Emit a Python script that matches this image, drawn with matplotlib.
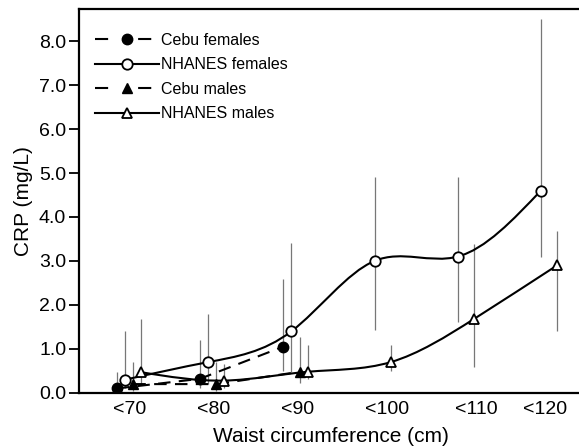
import numpy as np
import matplotlib
matplotlib.use("Agg")
import matplotlib.pyplot as plt
from matplotlib.path import Path
from matplotlib.patches import PathPatch
from matplotlib.lines import Line2D

plt.rcParams['font.family'] = ['Liberation Sans', 'DejaVu Sans']

# waist circumference groups
groups = ['<70', '<80', '<90', '<100', '<110', '<120']

# CRP (mg/L) with lower / upper bounds
cebu_f = [0.1, 0.32, 1.05]
cebu_f_lo = [0.0, 0.1, 0.5]
cebu_f_hi = [0.48, 1.2, 2.58]

nhanes_f = [0.3, 0.7, 1.4, 3.0, 3.1, 4.6]
nhanes_f_lo = [0.1, 0.2, 0.48, 1.42, 1.62, 3.1]
nhanes_f_hi = [1.4, 1.8, 3.4, 4.9, 4.9, 8.5]

cebu_m = [0.2, 0.2, 0.48]
cebu_m_lo = [0.05, 0.05, 0.23]
cebu_m_hi = [0.7, 0.7, 1.28]

nhanes_m = [0.47, 0.28, 0.48, 0.7, 1.68, 2.9]
nhanes_m_lo = [0.2, 0.1, 0.31, 0.5, 0.6, 1.41]
nhanes_m_hi = [1.68, 0.66, 1.08, 1.08, 3.39, 3.69]


def spline_path(x, y):
    # natural cubic spline as bezier segments
    x = np.asarray(x, float)
    y = np.asarray(y, float)
    n = len(x)
    h = np.diff(x)
    A = np.zeros((n, n))
    b = np.zeros(n)
    A[0, 0] = A[-1, -1] = 1
    for i in range(1, n - 1):
        A[i, i - 1] = h[i - 1]
        A[i, i] = 2 * (h[i - 1] + h[i])
        A[i, i + 1] = h[i]
        b[i] = 6 * ((y[i + 1] - y[i]) / h[i] - (y[i] - y[i - 1]) / h[i - 1])
    M = np.linalg.solve(A, b)
    verts = [(x[0], y[0])]
    codes = [Path.MOVETO]
    for i in range(n - 1):
        d0 = (y[i + 1] - y[i]) / h[i] - h[i] * (2 * M[i] + M[i + 1]) / 6
        d1 = (y[i + 1] - y[i]) / h[i] + h[i] * (M[i] + 2 * M[i + 1]) / 6
        verts += [(x[i] + h[i] / 3, y[i] + d0 * h[i] / 3),
                  (x[i + 1] - h[i] / 3, y[i + 1] - d1 * h[i] / 3),
                  (x[i + 1], y[i + 1])]
        codes += [Path.CURVE4] * 3
    return Path(verts, codes)


fig = plt.figure(figsize=(5.79, 4.48), dpi=100)
ax = fig.add_axes([0.136, 0.123, 0.87, 0.857])

k = np.arange(len(groups))
off = {'cf': -0.15, 'nf': -0.05, 'cm': 0.05, 'nm': 0.145}
ecol = '#777777'

def errs(xs, lo, hi):
    ax.vlines(xs, lo, hi, color=ecol, lw=0.9, zorder=1)

xcf = k[:3] + off['cf']
xnf = k + off['nf']
xcm = k[:3] + off['cm']
xnm = k + off['nm']

errs(xcf, cebu_f_lo, cebu_f_hi)
errs(xnf, nhanes_f_lo, nhanes_f_hi)
errs(xcm, cebu_m_lo, cebu_m_hi)
errs(xnm, nhanes_m_lo, nhanes_m_hi)

lw = 1.5
ax.add_patch(PathPatch(spline_path(xnf, nhanes_f), fill=False, lw=lw, ec='k', zorder=2))
ax.add_patch(PathPatch(spline_path(xnm, nhanes_m), fill=False, lw=lw, ec='k', zorder=2))
ax.plot(xcf, cebu_f, color='k', lw=lw, dashes=(6, 4), zorder=2)
ax.plot(xcm, cebu_m, color='k', lw=lw, dashes=(6, 4), zorder=2)

ms = 7.5
ax.plot(xcf, cebu_f, 'o', color='k', ms=ms, zorder=3)
ax.plot(xnf, nhanes_f, 'o', mfc='white', mec='k', mew=1.3, ms=ms, zorder=3)
ax.plot(xcm, cebu_m, '^', color='k', ms=ms, zorder=3)
ax.plot(xnm, nhanes_m, '^', mfc='white', mec='k', mew=1.3, ms=ms, zorder=3)

# legend dashes: dash, gap around marker, dash
hd = (6.3, 14.4, 6.3, 70)
handles = [
    Line2D([], [], color='k', lw=lw, dashes=hd, marker='o', ms=ms),
    Line2D([], [], color='k', lw=lw, marker='o', mfc='white', mew=1.3, ms=ms),
    Line2D([], [], color='k', lw=lw, dashes=hd, marker='^', ms=ms),
    Line2D([], [], color='k', lw=lw, marker='^', mfc='white', mew=1.3, ms=ms),
]
labels = ['Cebu females', 'NHANES females', 'Cebu males', 'NHANES males']
ax.legend(handles, labels, loc='upper left', frameon=False, fontsize=11.5,
          handlelength=4.0, handletextpad=0.1, labelspacing=0.6,
          bbox_to_anchor=(0.02, 0.955), borderaxespad=0.0)

ax.set_xlim(-0.606, 5.45)
ax.set_ylim(0, 8.73)
ax.set_yticks(np.arange(0, 9, 1.0))
ax.set_yticklabels(['%.1f' % v for v in np.arange(0, 9, 1.0)], fontsize=14)
ax.set_xticks([0.01, 1.02, 2.03, 3.1, 4.17, 5.0])
ax.set_xticklabels(groups, fontsize=14)
ax.tick_params(axis='x', length=0, pad=6)
ax.tick_params(axis='y', length=7, width=1.3, direction='out', pad=2)
ax.spines['right'].set_visible(False)
for s in ['left', 'bottom', 'top']:
    ax.spines[s].set_linewidth(1.6)

ax.set_xlabel('Waist circumference (cm)', fontsize=15, labelpad=6)
ax.set_ylabel('CRP (mg/L)', fontsize=15, labelpad=4)

fig.savefig('out.png', dpi=100)
